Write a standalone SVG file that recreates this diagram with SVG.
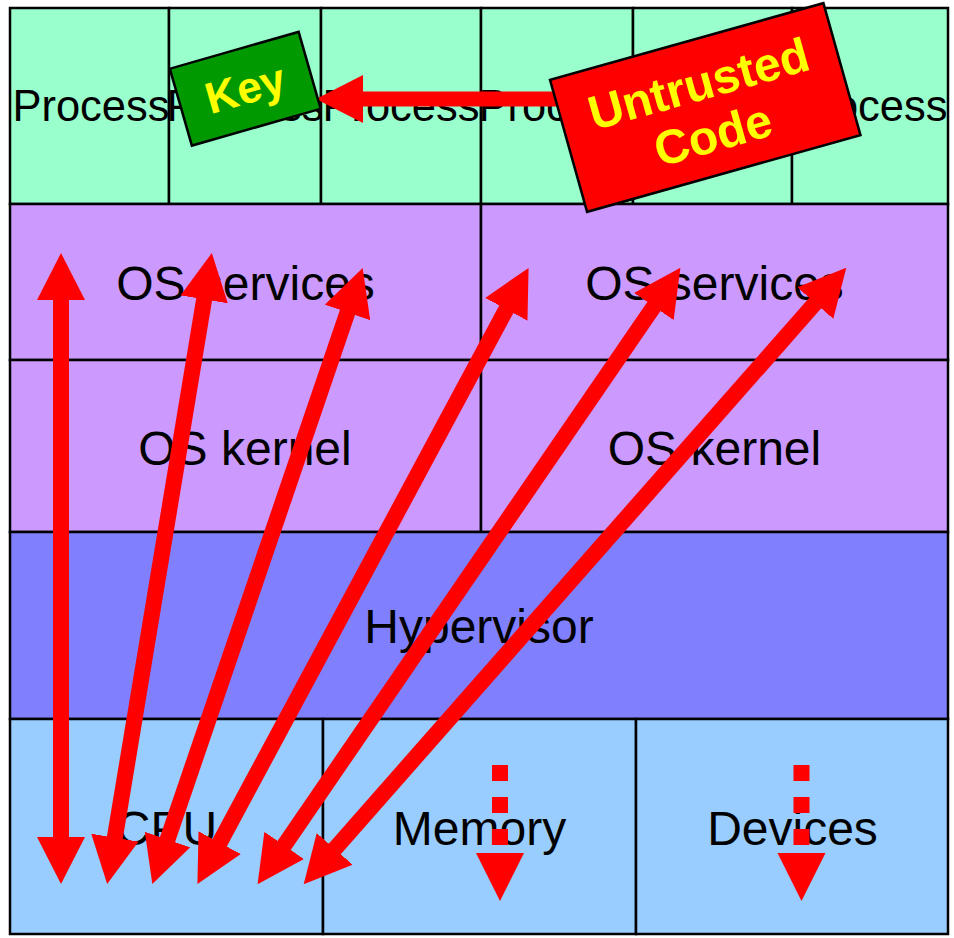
<svg xmlns="http://www.w3.org/2000/svg" width="954" height="938" viewBox="0 0 954 938">
  <style>
    .cell { stroke: #000; stroke-width: 2.5; }
    .proc { fill: #99FFCC; }
    .os { fill: #CC99FF; }
    .hyp { fill: #8080FF; }
    .hw { fill: #99CCFF; }
    .lbl { font-family: "Liberation Sans", Arial, sans-serif; font-size: 48px; fill: #000; text-anchor: middle; }
    .plbl { font-family: "Liberation Sans", Arial, sans-serif; font-size: 43.5px; fill: #000; text-anchor: middle; }
    .tag { font-family: "Liberation Sans", Arial, sans-serif; font-weight: bold; fill: #FFFF00; text-anchor: middle; }
    .flow { stroke: #FF0000; stroke-width: 16; fill: none; marker-start: url(#head); marker-end: url(#head); }
  </style>
  <defs>
    <marker id="head" viewBox="0 0 47 48" refX="1" refY="24" markerWidth="47" markerHeight="48" markerUnits="userSpaceOnUse" orient="auto-start-reverse">
      <path d="M0,0 L47,24 L0,48 Z" fill="#FF0000"/>
    </marker>
    <marker id="headEnd" viewBox="0 0 47 48" refX="1" refY="24" markerWidth="47" markerHeight="48" markerUnits="userSpaceOnUse" orient="auto">
      <path d="M0,0 L47,24 L0,48 Z" fill="#FF0000"/>
    </marker>
  </defs>

  <!-- Process row -->
  <g id="process-1"><rect class="cell proc" x="10" y="8" width="159" height="196"/><text class="plbl" x="91" y="121">Process</text></g>
  <g id="process-2"><rect class="cell proc" x="169" y="8" width="152" height="196"/><text class="plbl" x="245" y="121">Process</text></g>
  <g id="process-3"><rect class="cell proc" x="321" y="8" width="160" height="196"/><text class="plbl" x="401" y="121">Process</text></g>
  <g id="process-4"><rect class="cell proc" x="481" y="8" width="152" height="196"/><text class="plbl" x="557" y="121">Process</text></g>
  <g id="process-5"><rect class="cell proc" x="633" y="8" width="159" height="196"/><text class="plbl" x="712.5" y="121">Process</text></g>
  <g id="process-6"><rect class="cell proc" x="792" y="8" width="156" height="196"/><text class="plbl" x="869" y="121">Process</text></g>

  <!-- OS services -->
  <g id="os-services-1"><rect class="cell os" x="10" y="204" width="471" height="156"/><text class="lbl" x="245.5" y="300">OS services</text></g>
  <g id="os-services-2"><rect class="cell os" x="481" y="204" width="467" height="156"/><text class="lbl" x="714.5" y="300">OS services</text></g>

  <!-- OS kernels -->
  <g id="os-kernel-1"><rect class="cell os" x="10" y="360" width="471" height="172"/><text class="lbl" x="245" y="465">OS kernel</text></g>
  <g id="os-kernel-2"><rect class="cell os" x="481" y="360" width="467" height="172"/><text class="lbl" x="714.5" y="465">OS kernel</text></g>

  <!-- Hypervisor -->
  <g id="hypervisor"><rect class="cell hyp" x="10" y="532" width="938" height="187"/><text class="lbl" x="479" y="643">Hypervisor</text></g>

  <!-- Hardware -->
  <g id="cpu"><rect class="cell hw" x="10" y="719" width="313" height="215"/><text class="lbl" x="166.5" y="845">CPU</text></g>
  <g id="memory"><rect class="cell hw" x="323" y="719" width="313" height="215"/><text class="lbl" x="479.5" y="845">Memory</text></g>
  <g id="devices"><rect class="cell hw" x="636" y="719" width="312" height="215"/><text class="lbl" x="792.5" y="845">Devices</text></g>

  <!-- Connectors -->
  <g id="connectors">
    <line class="flow" x1="61" y1="838" x2="61" y2="299"/>
    <line class="flow" x1="114.7" y1="838.6" x2="204.3" y2="298.4"/>
    <line class="flow" x1="167.2" y1="840.5" x2="347.8" y2="311.5"/>
    <line class="flow" x1="219.2" y1="843.6" x2="506.8" y2="308.4"/>
    <line class="flow" x1="283.6" y1="846.2" x2="654.4" y2="305.7"/>
    <line class="flow" x1="334.1" y1="849.7" x2="815.9" y2="302.3"/>

    <!-- dotted accesses into memory and devices -->
    <line x1="500" y1="765" x2="500" y2="845" stroke="#FF0000" stroke-width="16" stroke-dasharray="16 16"/>
    <polygon points="476,853 524,853 500,901" fill="#FF0000"/>
    <line x1="801.5" y1="765" x2="801.5" y2="845" stroke="#FF0000" stroke-width="16" stroke-dasharray="16 16"/>
    <polygon points="777.5,853 825.5,853 801.5,901" fill="#FF0000"/>

    <!-- untrusted code reaching for the key -->
    <line x1="600" y1="99" x2="362" y2="99" stroke="#FF0000" stroke-width="15" marker-end="url(#headEnd)"/>
  </g>

  <!-- Key tag -->
  <g id="key" transform="translate(245.25,88.75) rotate(-16)">
    <rect x="-67" y="-40" width="134" height="80" fill="#009900" stroke="#000" stroke-width="2.5"/>
    <text class="tag" x="0" y="15" font-size="44">Key</text>
  </g>

  <!-- Untrusted code tag -->
  <g id="untrusted-code" transform="translate(705.25,107.5) rotate(-15.7)">
    <rect x="-142" y="-68.5" width="284" height="137" fill="#FF0000" stroke="#000" stroke-width="2.5"/>
    <text class="tag" x="0" y="-8" font-size="48">Untrusted</text>
    <text class="tag" x="0" y="45" font-size="48">Code</text>
  </g>
</svg>
